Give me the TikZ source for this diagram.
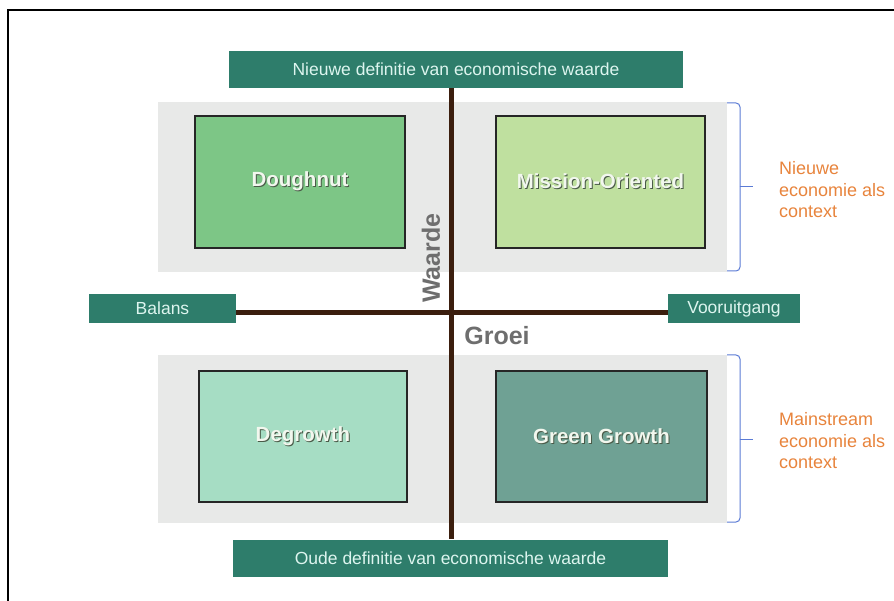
\documentclass[tikz,border=0pt]{standalone}
\usepackage{fontspec}
\setmainfont{Liberation Sans}
\definecolor{teal}{HTML}{2E7D6B}
\definecolor{tealtxt}{HTML}{DDF5EF}
\definecolor{axisc}{HTML}{3B1E0E}
\definecolor{bgc}{HTML}{E8E9E8}
\definecolor{dough}{HTML}{7DC686}
\definecolor{miss}{HTML}{BFE09F}
\definecolor{degr}{HTML}{A6DDC4}
\definecolor{ggro}{HTML}{6FA194}
\definecolor{boxtxt}{HTML}{F2F7EE}
\definecolor{shadowc}{HTML}{4A5A48}
\definecolor{bracec}{HTML}{5B7BD5}
\definecolor{orangec}{HTML}{E8843C}
\definecolor{axlbl}{HTML}{6E6E6E}
\newcommand\shtext[1]{\makebox[0pt][l]{\raisebox{-1pt}{\hspace{1pt}\color{shadowc}#1}}\color{boxtxt}#1}
\tikzset{
  tealbox/.style={fill=teal, draw=none, text=tealtxt, inner sep=0pt,
    font=\fontsize{17.5}{21}\selectfont},
  quad/.style={draw=black!85, line width=1.4pt, inner sep=0pt,
    font=\bfseries\fontsize{20.5}{24}\selectfont},
  bgpanel/.style={fill=bgc, draw=none},
  axis/.style={draw=axisc, line width=5pt},
  axlabel/.style={text=axlbl, font=\bfseries\fontsize{25}{30}\selectfont, inner sep=0pt},
  bracel/.style={draw=bracec, line width=1pt, rounded corners=4pt},
  ctx/.style={text=orangec, align=left, anchor=west, inner sep=0pt,
    font=\fontsize{18}{21.5}\selectfont},
}
\begin{document}
\begin{tikzpicture}[x=1pt,y=-1pt]
\useasboundingbox (0,0) rectangle (894,601);
\fill[white] (0,0) rectangle (894,601);
% frame
\draw[black, line width=2pt] (7.5,601) -- (7.5,10.5) -- (894,10.5);
% background panels
\fill[bgpanel] (158,102) rectangle (727,272);
\fill[bgpanel] (158,355) rectangle (727,523);
% teal label boxes
\node[tealbox, minimum width=454, minimum height=37] (top) at (456,69.5) {Nieuwe definitie van economische waarde};
\node[tealbox, minimum width=435, minimum height=37] (bot) at (450.5,558) {Oude definitie van economische waarde};
\node[tealbox, minimum width=147, minimum height=29] (balans) at (162.5,308.5) {Balans};
\node[tealbox, minimum width=132, minimum height=29] (voor) at (734,308.5) {Vooruitgang};
\coordinate (cross) at (451,313);
% axes
\draw[axis] (top.south -| cross) -- (bot.north -| cross);
\draw[axis] (balans.east |- cross) -- (voor.west |- cross);
% quadrant boxes
\node[quad, fill=dough, minimum width=210, minimum height=132] (dn) at (300,182) {\shtext{Doughnut}};
\node[quad, fill=miss, minimum width=209, minimum height=132] (mo) at (600.5,182) {\shtext{Mission-Oriented}};
\node[quad, fill=degr, minimum width=208, minimum height=131] (dg) at (303,436.5) {\shtext{Degrowth}};
\node[quad, fill=ggro, minimum width=211, minimum height=131] (gg) at (601.5,436.5) {\shtext{Green Growth}};
% axis labels
\node[axlabel, rotate=90] (waarde) at (431,258) {Waarde};
\node[axlabel] (groei) at (497,336) {Groei};
% braces
\draw[bracel] (727,103) -- (740,103) -- (740,271) -- (727,271);
\draw[bracec, line width=1pt] (739.5,187) -- (753,187);
\draw[bracel] (727,355) -- (740,355) -- (740,522) -- (727,522);
\draw[bracec, line width=1pt] (739.5,439) -- (753,439);
% context labels
\node[ctx] (ctx1) at (779,190) {Nieuwe\\economie als\\context};
\node[ctx] (ctx2) at (779,441) {Mainstream\\economie als\\context};
\end{tikzpicture}
\end{document}
